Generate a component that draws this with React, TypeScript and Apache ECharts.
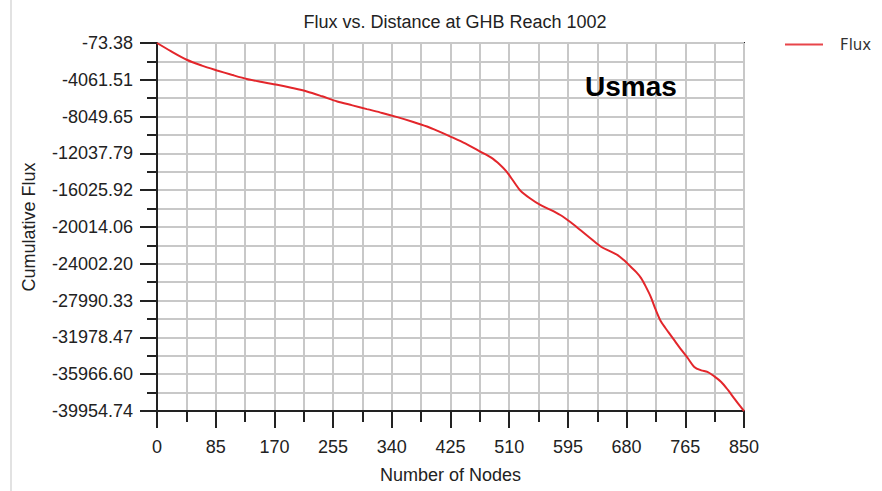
import React, { useEffect, useRef } from "react";
import * as echarts from "echarts";

const titleText = "Flux vs. Distance at GHB Reach 1002";
const xName = "Number of Nodes";
const yName = "Cumulative Flux";
const seriesName = "Flux";
const annotation = "Usmas";

const xTicks = [0, 85, 170, 255, 340, 425, 510, 595, 680, 765, 850];
const yTickLabels = [
  "-39954.74",
  "-35966.60",
  "-31978.47",
  "-27990.33",
  "-24002.20",
  "-20014.06",
  "-16025.92",
  "-12037.79",
  "-8049.65",
  "-4061.51",
  "-73.38",
];
const yMin = -39954.74;
const yMax = -73.38;

const nodes = [
  0, 20, 43, 65, 87, 108, 130, 152, 174, 196, 217, 239, 261, 283, 304, 326, 348, 370, 391, 408,
  425, 447, 468, 484, 497, 505, 512, 519, 526, 540, 555, 570, 584, 599, 613, 628, 643, 655, 667,
  676, 686, 694, 701, 708, 715, 722, 730, 740, 749, 759, 769, 778, 788, 797, 807, 817, 827, 836,
  843, 850,
];
const flux = [
  -73.38, -950, -1886, -2520, -3047, -3520, -3981, -4300, -4600, -4950, -5327, -5850, -6412,
  -6830, -7237, -7650, -8106, -8600, -9126, -9650, -10212, -10980, -11840, -12500, -13284,
  -13900, -14600, -15350, -16050, -16900, -17626, -18150, -18711, -19500, -20339, -21250,
  -22152, -22600, -23053, -23600, -24323, -24900, -25550, -26500, -27580, -28950, -30293,
  -31350, -32280, -33300, -34266, -35178, -35550, -35721, -36200, -36806, -37700, -38608,
  -39300, -39954.74,
];

const FONT = "Arial, 'Liberation Sans', sans-serif";

export default function App() {
  const ref = useRef<HTMLDivElement>(null);
  useEffect(() => {
    if (!ref.current) return;
    const chart = echarts.init(ref.current, undefined, { renderer: "svg" });
    const data = nodes.map((n, i) => [n, flux[i]]);
    chart.setOption({
      animation: false,
      backgroundColor: "#ffffff",
      title: {
        text: titleText,
        left: 450,
        textAlign: "center",
        top: 8,
        textStyle: { fontFamily: FONT, fontSize: 18, fontWeight: "normal", color: "#222" },
      },
      legend: {
        left: 780,
        top: 32,
        itemWidth: 38,
        itemHeight: 2,
        icon: "rect",
        data: [seriesName],
        itemStyle: { color: "#e8454a" },
        textStyle: {
          fontFamily: "'DejaVu Sans', sans-serif",
          fontSize: 15,
          color: "#333",
          padding: [0, 0, 0, 12],
        },
      },
      grid: {
        left: 157,
        right: 138,
        top: 43,
        bottom: 80,
        show: true,
        borderColor: "#222",
        borderWidth: 2,
        backgroundColor: "transparent",
      },
      xAxis: {
        type: "value",
        min: 0,
        max: 850,
        interval: 85,
        name: xName,
        nameLocation: "middle",
        nameGap: 55,
        nameTextStyle: { fontFamily: FONT, fontSize: 18, color: "#222" },
        axisLine: { show: true, onZero: false, lineStyle: { color: "#222", width: 2 } },
        axisTick: { show: true, length: 17, lineStyle: { color: "#222", width: 2 } },
        minorTick: { show: true, splitNumber: 2, length: 11, lineStyle: { color: "#222", width: 2 } },
        splitLine: { show: true, lineStyle: { color: "#c8c8c8", width: 2 } },
        minorSplitLine: { show: true, lineStyle: { color: "#c8c8c8", width: 2 } },
        axisLabel: {
          margin: 27,
          fontFamily: FONT,
          fontSize: 18,
          color: "#222",
          formatter: (v: number) => (xTicks.includes(v) ? String(v) : ""),
        },
      },
      yAxis: [
        {
          type: "value",
          min: yMin,
          max: yMax,
          show: false,
          splitLine: { show: false },
        },
        {
          type: "value",
          min: 0,
          max: yTickLabels.length - 1,
          interval: 1,
          position: "left",
          name: yName,
          nameLocation: "middle",
          nameGap: 119,
          nameTextStyle: { fontFamily: FONT, fontSize: 18, color: "#222" },
          axisLine: { show: true, onZero: false, lineStyle: { color: "#222", width: 2 } },
          axisTick: { show: true, length: 17, lineStyle: { color: "#222", width: 2 } },
          minorTick: { show: true, splitNumber: 2, length: 10, lineStyle: { color: "#222", width: 2 } },
          splitLine: { show: true, lineStyle: { color: "#c8c8c8", width: 2 } },
          minorSplitLine: { show: true, lineStyle: { color: "#c8c8c8", width: 2 } },
          axisLabel: {
            margin: 24,
            fontFamily: FONT,
            fontSize: 18,
            color: "#222",
            formatter: (v: number) => yTickLabels[Math.round(v)] ?? "",
          },
        },
      ],
      series: [
        {
          name: seriesName,
          type: "line",
          yAxisIndex: 0,
          data,
          symbol: "none",
          smooth: 0.3,
          lineStyle: { color: "#e3262b", width: 2 },
          itemStyle: { color: "#e3262b" },
          z: 5,
        },
      ],
      graphic: [
        {
          type: "line",
          shape: { x1: 11, y1: 0, x2: 11, y2: 491 },
          style: { stroke: "#e2e2e2", lineWidth: 2 },
        },
        {
          type: "text",
          left: 585,
          top: 72,
          z: 10,
          style: {
            text: annotation,
            fontFamily: FONT,
            fontSize: 28,
            fontWeight: "bold",
            fill: "#000",
          },
        },
      ],
    });
    return () => chart.dispose();
  }, []);
  return (
    <div
      ref={ref}
      style={{ position: "fixed", left: 0, top: 0, width: 882, height: 491, background: "#fff" }}
    />
  );
}
